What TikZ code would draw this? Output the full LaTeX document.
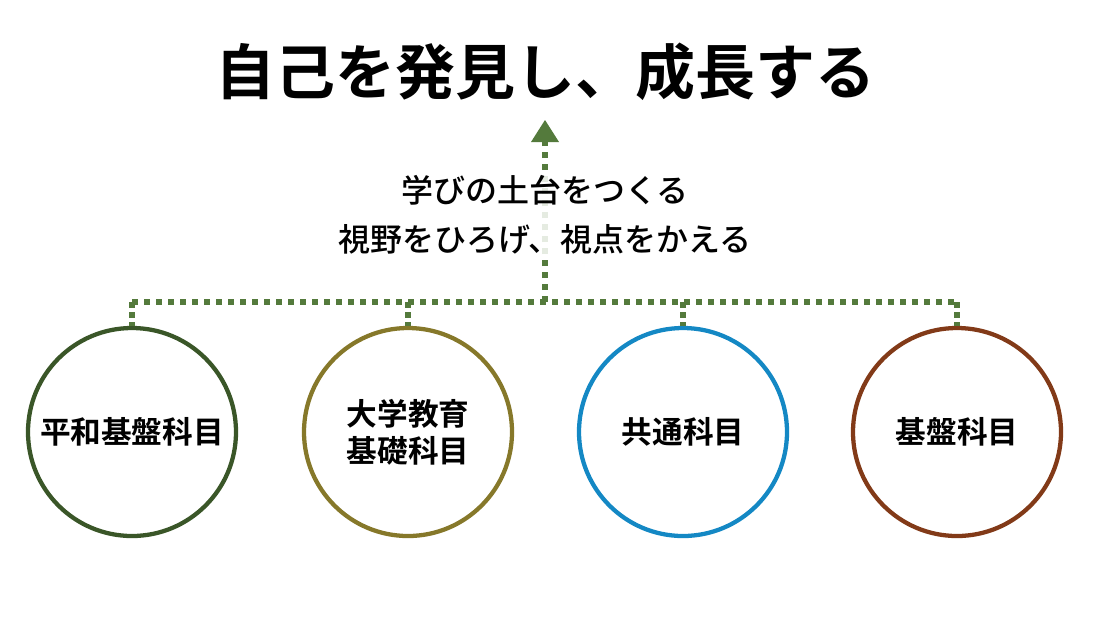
\documentclass[tikz,border=0pt]{standalone}
\usepackage{fontspec}
\setmainfont[BoldFont={Noto Sans CJK JP Bold}]{Noto Sans CJK JP}
\newfontfamily\cjkm{Noto Sans CJK JP Medium}
\usetikzlibrary{arrows.meta}
\begin{document}
\begin{tikzpicture}[x=0.75pt,y=-0.75pt,
  dot/.style={line width=4.5pt, dash pattern=on 4.5pt off 4.5pt},
  circ/.style={circle, minimum size=208*0.75pt, line width=3.2pt, draw, align=center, font=\fontsize{23}{28}\selectfont\bfseries, inner sep=0pt},
  lbl/.style={fill=white, fill opacity=0.85, text opacity=1, align=center, font=\fontsize{24}{37}\selectfont\cjkm}]
\useasboundingbox (0,0) rectangle (1100,619);
\definecolor{cg}{RGB}{58,86,40}\definecolor{co}{RGB}{134,120,42}\definecolor{cb}{RGB}{20,136,196}\definecolor{cr}{RGB}{130,58,24}\definecolor{ln}{RGB}{84,122,60}
\node (t) at (545,72) {\fontsize{45}{50}\selectfont\bfseries 自己を発見し、成長する};
\coordinate (hl) at (132,302); \coordinate (hr) at (957,302);
\coordinate (am) at (545,302);
\node[circ, draw=cg] (c1) at (132,432) {平和基盤科目};
\node[circ, draw=co] (c2) at (408,432) {大学教育\\基礎科目};
\node[circ, draw=cb] (c3) at (683,432) {共通科目};
\node[circ, draw=cr] (c4) at (957,432) {基盤科目};
\draw[dot, draw=ln] (hl) -- (hr);
\draw[dot, draw=ln] (am) -- (545,140);
\fill[ln] (531,142) -- (559,142) -- (545,120) -- cycle;
\foreach \c in {c1,c2,c3,c4} \draw[dot, draw=ln, dash pattern=on 4.5pt off 3pt] (\c.north |- hl) -- (\c.north);
\node[lbl] (m) at (545,215) {学びの土台をつくる\\視野をひろげ、視点をかえる};
\end{tikzpicture}
\end{document}
